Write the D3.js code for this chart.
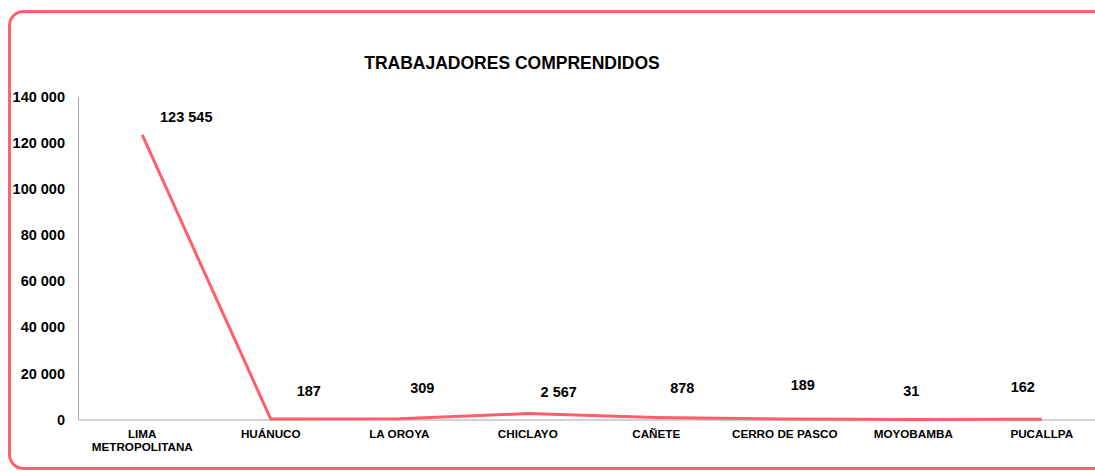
<!DOCTYPE html>
<html><head><meta charset="utf-8">
<script src="https://cdn.jsdelivr.net/npm/d3@7"></script>
<style>html,body{margin:0;padding:0;background:#fff;overflow:hidden;width:1095px;height:472px}svg{display:block}text{font-family:"Liberation Sans",Arial,sans-serif;font-weight:bold;fill:#000}</style>
</head><body>
<script>
const categories = ["LIMA METROPOLITANA","HUÁNUCO","LA OROYA","CHICLAYO","CAÑETE","CERRO DE PASCO","MOYOBAMBA","PUCALLPA"];
const values = [123545,187,309,2567,878,189,31,162];
const valueLabels = ["123 545","187","309","2 567","878","189","31","162"];
const yTicks = [0,20000,40000,60000,80000,100000,120000,140000];
const labelNudge = [[44,-18],[38,-28],[23,-31],[31,-22],[26,-29],[18,-34],[-2,-28],[-19,-32]];

const W=1095,H=472;
const svg=d3.select("body").append("svg").attr("width",W).attr("height",H).attr("viewBox",`0 0 ${W} ${H}`);
// open border frame (continues past the right edge)
const r=14, x0=9.5, y0=11.5, y1=468.5, xr=W+20;
svg.append("path")
  .attr("d",`M${xr},${y0}H${x0+r}A${r},${r} 0 0 0 ${x0},${y0+r}V${y1-r}A${r},${r} 0 0 0 ${x0+r},${y1}H${xr}`)
  .attr("fill","none").attr("stroke","#FF626E").attr("stroke-width",3);

svg.append("text").attr("x",512).attr("y",69).attr("text-anchor","middle").style("font-size","17.5px").text("TRABAJADORES COMPRENDIDOS");

const x=d3.scaleBand().domain(categories).range([78,1106]);
const y=d3.scaleLinear().domain([0,140000]).range([419.5,97]);
const fmt=d=>d3.format(",")(d).replace(/,/g," ");

const ya=svg.append("g").attr("transform","translate(78,0)").call(d3.axisLeft(y).tickValues(yTicks).tickSize(0).tickPadding(13).tickFormat(fmt));
ya.select(".domain").attr("stroke","#A6A6A6");
ya.selectAll("text").style("font-size","14.5px").style("font-family","Liberation Sans, Arial, sans-serif");

const xa=svg.append("g").attr("transform","translate(0,419.5)").call(d3.axisBottom(x).tickSize(0).tickPadding(0).tickFormat(""));
xa.select(".domain").attr("stroke","#A6A6A6");
xa.selectAll(".tick").each(function(d){
  const t=d3.select(this).append("text").attr("text-anchor","middle").style("font-size","11.7px");
  const parts=d==="LIMA METROPOLITANA"?["LIMA","METROPOLITANA"]:[d];
  parts.forEach((p,i)=>t.append("tspan").attr("x",0).attr("y",18+i*13.5).text(p));
});

const line=d3.line().x((d,i)=>x(categories[i])+x.bandwidth()/2).y(d=>y(d));
svg.append("path").datum(values).attr("d",line).attr("fill","none").attr("stroke","#FF5F6D").attr("stroke-width",3).attr("stroke-linejoin","round");

svg.append("g").selectAll("text").data(values).join("text")
  .attr("x",(d,i)=>x(categories[i])+x.bandwidth()/2+labelNudge[i][0])
  .attr("y",(d,i)=>y(d)+labelNudge[i][1]+5)
  .attr("text-anchor","middle").style("font-size","14.5px")
  .text((d,i)=>valueLabels[i]);
</script>
</body></html>
